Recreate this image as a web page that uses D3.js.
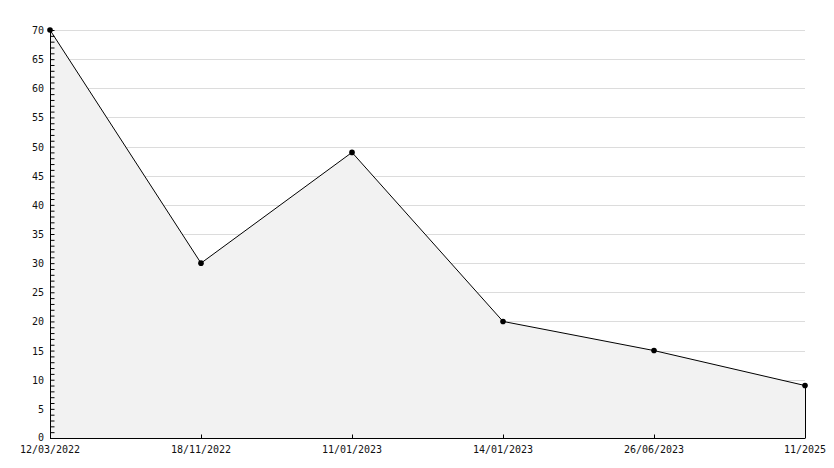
<!DOCTYPE html>
<html>
<head>
<meta charset="utf-8">
<script src="https://cdn.jsdelivr.net/npm/d3@7"></script>
<style>
  body { margin: 0; background: #fff; }
  text { font-family: "DejaVu Sans Mono", monospace; font-size: 10px; fill: #111; }
</style>
</head>
<body>
<div id="chart"></div>
<script>
var dates = ['12/03/2022', '18/11/2022', '11/01/2023', '14/01/2023', '26/06/2023', '11/2025'];
var values = [70, 30, 49, 20, 15, 9];
var yMajorTicks = [0, 5, 10, 15, 20, 25, 30, 35, 40, 45, 50, 55, 60, 65, 70];

var width = 834, height = 468;
var margin = { top: 30, left: 50, right: 29, bottom: 30 };

var svg = d3.select('#chart').append('svg')
    .attr('width', width)
    .attr('height', height);

var x = d3.scalePoint().domain(dates).range([margin.left, width - margin.right]);
var y = d3.scaleLinear().domain([0, 70]).range([height - margin.bottom, margin.top]);

// gridlines
svg.append('g').selectAll('line')
    .data(yMajorTicks.filter(function(d){ return d > 0; }))
    .enter().append('line')
        .attr('x1', margin.left).attr('x2', width - margin.right)
        .attr('y1', function(d){ return Math.round(y(d)) + 0.5; })
        .attr('y2', function(d){ return Math.round(y(d)) + 0.5; })
        .attr('stroke', '#dcdcdc');

// area
var area = d3.area()
    .x(function(d, i){ return x(dates[i]); })
    .y0(y(0))
    .y1(function(d){ return y(d); });

svg.append('path').datum(values)
    .attr('d', area)
    .attr('fill', '#f2f2f2');

// right edge line
svg.append('line')
    .attr('x1', Math.round(x(dates[dates.length - 1])) + 0.5)
    .attr('x2', Math.round(x(dates[dates.length - 1])) + 0.5)
    .attr('y1', y(values[values.length - 1]))
    .attr('y2', y(0))
    .attr('stroke', '#000');

// y axis (minor ticks every unit, pointing inward)
var yAxis = d3.axisRight(y).tickValues(d3.range(0, 71)).tickSize(4).tickFormat('');
svg.append('g').attr('transform', 'translate(' + (margin.left + 0.5) + ',0)')
    .call(yAxis)
    .call(function(g){ g.select('.domain').attr('d', 'M0,' + y(70) + 'V' + y(0)); });

svg.append('g').selectAll('text')
    .data(yMajorTicks)
    .enter().append('text')
        .attr('x', margin.left - 6)
        .attr('y', function(d){ return y(d) + 4 - (d === 0 ? 1 : 0); })
        .attr('text-anchor', 'end')
        .text(function(d){ return d; });

// x axis
var xAxis = d3.axisTop(x).tickSize(4).tickFormat('');
svg.append('g').attr('transform', 'translate(0,' + (Math.round(y(0)) + 0.5) + ')')
    .call(xAxis)
    .call(function(g){ g.select('.domain').attr('d', 'M' + margin.left + ',0H' + (width - margin.right)); });

svg.append('g').selectAll('text')
    .data(dates)
    .enter().append('text')
        .attr('x', function(d){ return x(d); })
        .attr('y', y(0) + 15)
        .attr('text-anchor', 'middle')
        .text(function(d){ return d; });

// line
var line = d3.line()
    .x(function(d, i){ return x(dates[i]); })
    .y(function(d){ return y(d); });

svg.append('path').datum(values)
    .attr('d', line)
    .attr('fill', 'none')
    .attr('stroke', '#000')
    .attr('stroke-width', 1);

// markers
svg.append('g').selectAll('circle')
    .data(values)
    .enter().append('circle')
        .attr('cx', function(d, i){ return x(dates[i]); })
        .attr('cy', function(d){ return y(d); })
        .attr('r', 2.8)
        .attr('fill', '#000');
</script>
</body>
</html>
